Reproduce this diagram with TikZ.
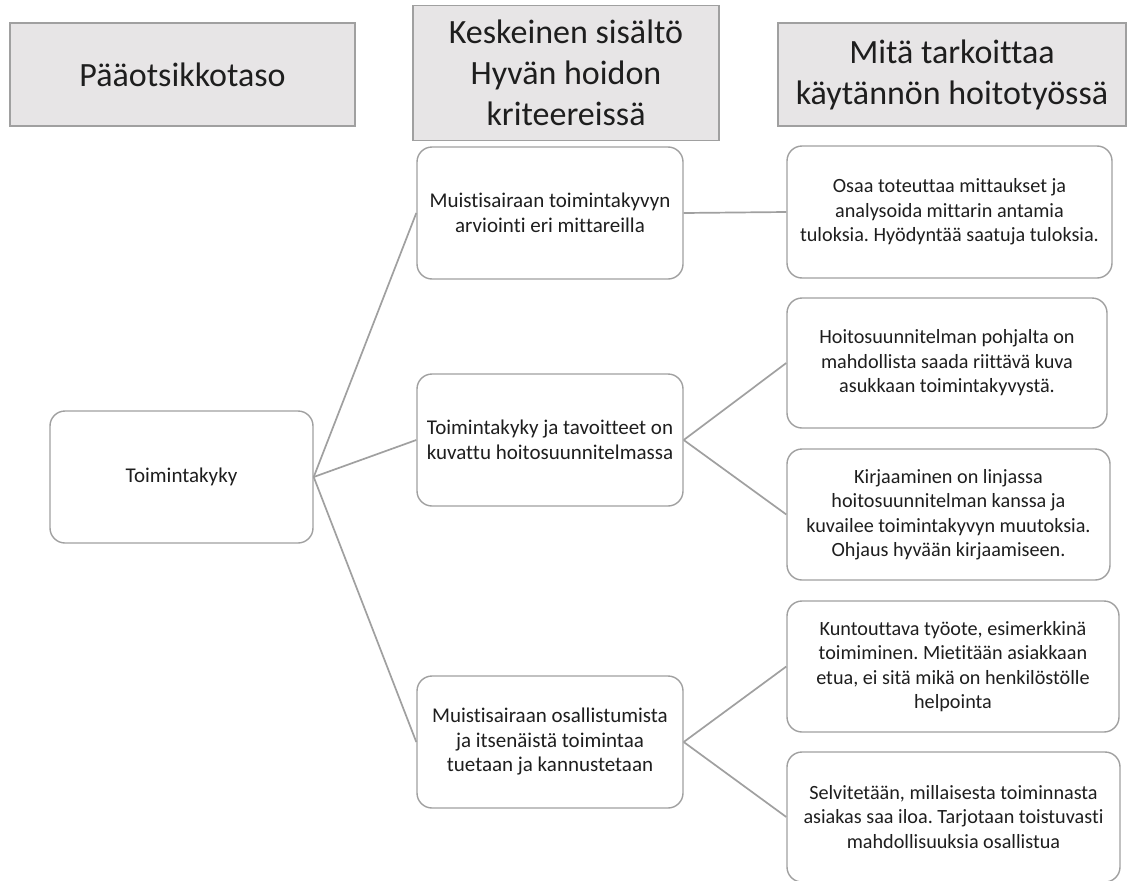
\documentclass[tikz,border=0pt]{standalone}
\usepackage{fontspec}
\setmainfont[Ligatures={NoCommon}]{Carlito}
\frenchspacing
\definecolor{hdrfill}{HTML}{E7E5E6}
\definecolor{edge}{HTML}{A0A0A0}
\definecolor{txt}{HTML}{1E1E1E}
\tikzset{
  hdr/.style={draw=edge, line width=1.3pt, fill=hdrfill, inner sep=0pt, align=center,
    font=\fontsize{34}{41}\selectfont, text=txt},
  card/.style={draw=edge, line width=1.4pt, fill=white, rounded corners=15pt, inner sep=0pt,
    align=center, font=\fontsize{20.2}{24.5}\selectfont, text=txt},
  midcard/.style={card, font=\fontsize{21}{24.5}\selectfont},
  link/.style={draw=edge, line width=1.7pt}
}
\begin{document}
\begin{tikzpicture}[x=1pt,y=-1pt]
\useasboundingbox (0,0) rectangle (1128,881);
\fill[white] (0,0) rectangle (1128,881);
% headers
\node[hdr, minimum width=345pt, minimum height=103pt] (h1) at (182.5,74.5) {Pääotsikkotaso};
\node[hdr, minimum width=306pt, minimum height=135pt] (h2) at (566,73) {Keskeinen sisältö\\Hyvän hoidon\\kriteereissä};
\node[hdr, minimum width=348pt, minimum height=103pt] (h3) at (952,74.5) {Mitä tarkoittaa\\käytännön hoitotyössä};
% left
\node[midcard, minimum width=263pt, minimum height=132pt] (L) at (181.5,477) {Toimintakyky};
% middle
\node[midcard, minimum width=266pt, minimum height=132pt] (M1) at (550,213) {Muistisairaan toimintakyvyn\\arviointi eri mittareilla};
\node[midcard, minimum width=266pt, minimum height=132pt] (M2) at (550,440) {Toimintakyky ja tavoitteet on\\kuvattu hoitosuunnitelmassa};
\node[midcard, minimum width=266pt, minimum height=132pt] (M3) at (550,742) {Muistisairaan osallistumista\\ja itsenäistä toimintaa\\tuetaan ja kannustetaan};
% right
\node[card, minimum width=325pt, minimum height=132pt] (R1) at (949.5,212) {Osaa toteuttaa mittaukset ja\\analysoida mittarin antamia\\tuloksia. Hyödyntää saatuja tuloksia.};
\node[card, minimum width=320pt, minimum height=130pt] (R2) at (947,363) {Hoitosuunnitelman pohjalta on\\mahdollista saada riittävä kuva\\asukkaan toimintakyvystä.};
\node[card, minimum width=323pt, minimum height=131pt] (R3) at (948.5,514.5) {Kirjaaminen on linjassa\\hoitosuunnitelman kanssa ja\\kuvailee toimintakyvyn muutoksia.\\Ohjaus hyvään kirjaamiseen.};
\node[card, minimum width=332pt, minimum height=131pt] (R4) at (953,666.5) {Kuntouttava työote, esimerkkinä\\toimiminen. Mietitään asiakkaan\\etua, ei sitä mikä on henkilöstölle\\helpointa};
\node[card, minimum width=333pt, minimum height=130pt] (R5) at (953.5,817) {Selvitetään, millaisesta toiminnasta\\asiakas saa iloa. Tarjotaan toistuvasti\\mahdollisuuksia osallistua};
% connectors
\draw[link] (L.east) -- (M1.west);
\draw[link] (L.east) -- (M2.west);
\draw[link] (L.east) -- (M3.west);
\draw[link] (M1.east) -- (R1.west);
\draw[link] (M2.east) -- (R2.west);
\draw[link] (M2.east) -- (R3.west);
\draw[link] (M3.east) -- (R4.west);
\draw[link] (M3.east) -- (R5.west);
\end{tikzpicture}
\end{document}
